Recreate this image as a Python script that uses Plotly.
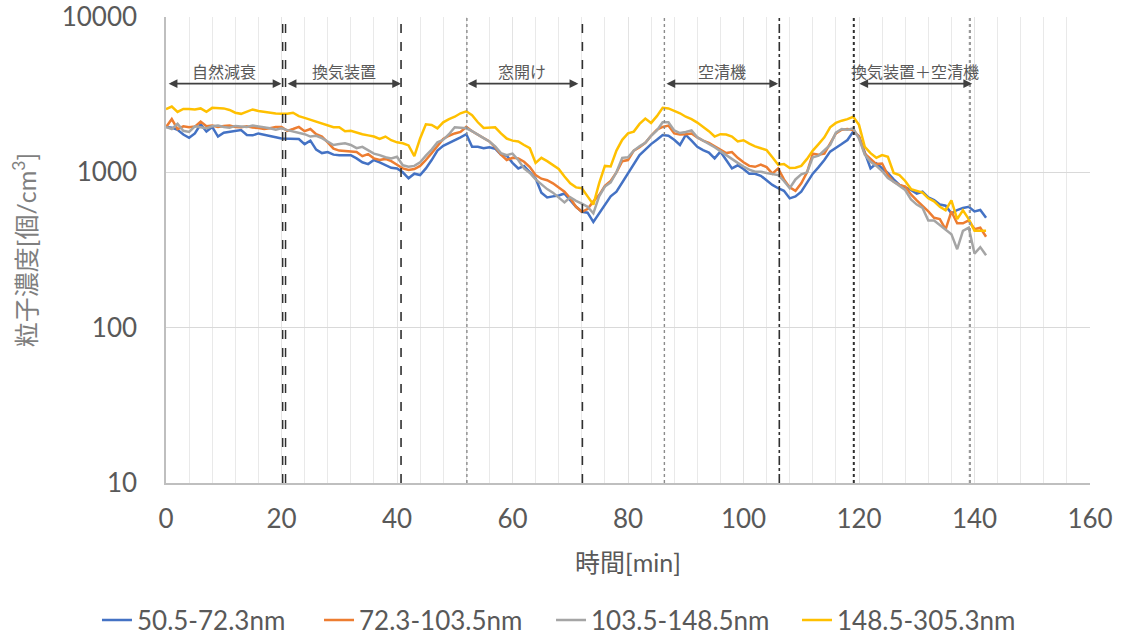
import plotly.graph_objects as go

# elapsed time [min]
minutes = list(range(0, 143))

# particle number concentration [個/cm3] per size band
band_50_72 = [
    1960, 1940, 1880, 1750, 1670, 1780, 2040, 1830, 1960, 1700,
    1800, 1830, 1840, 1870, 1740, 1730, 1780, 1740, 1700, 1680,
    1650, 1650, 1650, 1640, 1520, 1600, 1400, 1330, 1350, 1300,
    1290, 1290, 1290, 1230, 1160, 1130, 1200, 1160, 1120, 1070,
    1060, 1000, 915, 980, 960, 1060, 1200, 1380, 1480, 1540,
    1610, 1680, 1760, 1460, 1460, 1430, 1450, 1420, 1300, 1280,
    1150, 1060, 1100, 1010, 915, 740, 690, 700, 710, 730,
    660, 600, 557, 550, 480, 545, 620, 700, 750, 860,
    1000, 1140, 1290, 1400, 1520, 1620, 1740, 1720, 1620, 1500,
    1740, 1600, 1460, 1390, 1340, 1230, 1360, 1200, 1060, 1110,
    1050, 980, 980, 950, 890, 830, 790, 760, 680, 700,
    750, 850, 980, 1080, 1200, 1360, 1430, 1520, 1615, 1830,
    1700, 1330, 1060, 1140, 1060, 990, 900, 830, 800, 770,
    730, 750, 690, 663, 620, 610, 545, 572, 590, 600,
    560, 572, 510,
]
band_72_103 = [
    1950, 2200, 1900, 1980, 1950, 1970, 2120, 1980, 2000, 1960,
    1990, 2000, 1960, 1950, 1980, 1940, 1930, 1900, 1920, 1960,
    1960, 1850, 1900, 1960, 1840, 1900, 1760, 1700, 1560, 1420,
    1380, 1370, 1350, 1350, 1270, 1310, 1230, 1200, 1220, 1180,
    1120, 1060, 1035, 1050, 1100, 1200, 1330, 1480, 1640, 1720,
    1780, 1820, 1960, 1840, 1750, 1660, 1580, 1450, 1300, 1200,
    1240, 1230, 1170, 1080, 960, 910, 890, 850, 800, 750,
    680, 600, 557, 580, 650, 714, 820, 880, 1000, 1180,
    1200, 1380, 1450, 1550, 1720, 1880, 1960, 2000, 1780, 1750,
    1760, 1780, 1680, 1600, 1550, 1470, 1400, 1330, 1350, 1240,
    1160, 1100, 1085, 1120, 1080, 980, 1060, 900, 800, 760,
    850, 1000, 1320, 1300, 1320, 1550, 1780, 1880, 1900, 1870,
    1700, 1320, 1220, 1130, 1140, 960, 870, 830, 810, 720,
    660, 610, 560, 510, 500, 430, 560, 470, 470, 490,
    430, 440, 385,
]
band_103_148 = [
    1960, 1900, 2050, 1850, 1820, 1980, 1950, 1920, 1980, 2000,
    1960, 1940, 1990, 1970, 1960, 2000, 1980, 1950, 1920, 1880,
    1920, 1870, 1830, 1780, 1760, 1700, 1720, 1660, 1580, 1500,
    1520, 1540, 1500, 1430, 1460, 1380, 1320, 1290, 1250, 1230,
    1260, 1110, 1085, 1100, 1160, 1280, 1400, 1560, 1620, 1760,
    1950, 1940, 1920, 1840, 1740, 1660, 1580, 1470, 1330, 1290,
    1320, 1200, 1060, 990, 900, 840, 780, 740, 690, 640,
    690, 655, 630, 600, 545, 700, 810, 860, 1000, 1240,
    1250, 1380, 1470, 1550, 1720, 1860, 2100, 2100, 1860, 1790,
    1820, 1860, 1680, 1600, 1540, 1450, 1370, 1290, 1210, 1150,
    1090, 1040, 1010, 1010, 990, 970, 960, 880, 790, 900,
    970, 1000, 1250, 1280, 1380, 1500, 1800, 1900, 1880, 1920,
    1650, 1300, 1170, 1100, 1020, 920, 870, 820, 770, 670,
    620, 590, 490, 490, 460, 430, 400, 320, 420, 440,
    300, 330, 293,
]
band_148_305 = [
    2550, 2650, 2450, 2560, 2560, 2540, 2580, 2450, 2600, 2580,
    2580, 2520, 2420, 2380, 2460, 2540, 2480, 2450, 2400, 2390,
    2380, 2380, 2420, 2300, 2240, 2180, 2110, 2050, 1990, 1950,
    1950, 1840, 1850, 1800, 1760, 1730, 1700, 1640, 1700, 1610,
    1560, 1540, 1490, 1270, 1650, 2040, 2020, 1920, 2100, 2200,
    2280, 2400, 2470, 2330, 2100, 1930, 1940, 1950, 1780, 1650,
    1600, 1580, 1500, 1430, 1150, 1240, 1180, 1110, 1050, 940,
    850, 800, 790, 700, 620, 850, 1100, 1090, 1380, 1620,
    1780, 1830, 2050, 2220, 2080, 2300, 2600, 2580, 2500, 2400,
    2280, 2200, 2090, 1970, 1840, 1700, 1760, 1750, 1700, 1580,
    1610, 1530, 1470, 1430, 1390, 1250, 1120, 1130, 1065, 1070,
    1100, 1220, 1380, 1520, 1680, 1950, 2080, 2150, 2200, 2280,
    2020, 1460, 1330, 1240, 1290, 1260, 990, 960, 880, 780,
    760, 740, 680, 650, 600, 570, 660, 500, 570, 500,
    420, 420, 420,
]

series_names = ["50.5-72.3nm", "72.3-103.5nm", "103.5-148.5nm", "148.5-305.3nm"]
series_values = [band_50_72, band_72_103, band_103_148, band_148_305]
series_colors = ["#4472C4", "#ED7D31", "#A5A5A5", "#FFC000"]

# operating condition phases: (label, start, end)
phase_labels = ["自然減衰", "換気装置", "窓開け", "空清機", "換気装置＋空清機"]
phase_starts = [0.2, 20.8, 52.0, 86.4, 119.8]
phase_ends = [20.0, 40.7, 71.4, 106.0, 139.6]

# switching times: (time, dash, colour, width)
switch_times = [20.2, 20.7, 40.7, 52.1, 72.1, 86.3, 106.2, 119.1, 139.2]
switch_dash = ["dash", "dash", "dash", "dot", "dash", "dot", "dashdot", "dot", "dot"]
switch_color = ["#303030", "#303030", "#303030", "#8c8c8c", "#303030",
                "#8c8c8c", "#303030", "#303030", "#9a9a9a"]
switch_width = [1.5, 1.5, 1.6, 1.4, 1.6, 1.4, 1.6, 2.0, 2.2]

FONT = "Lato, 'Noto Sans CJK JP', sans-serif"
TXT = "#595959"

# one legend box per series so the entries sit where they belong
legend_ids = ["legend", "legend2", "legend3", "legend4"]
legend_x = [-0.0747, 0.1656, 0.4167, 0.6829]

fig = go.Figure()
for name, vals, col, lid in zip(series_names, series_values, series_colors, legend_ids):
    fig.add_trace(go.Scatter(
        x=minutes, y=vals, mode="lines", name=name,
        line=dict(color=col, width=2.5), legend=lid,
    ))

for t, d, c, w in zip(switch_times, switch_dash, switch_color, switch_width):
    fig.add_shape(type="line", xref="x", yref="paper", x0=t, x1=t, y0=0, y1=1,
                  line=dict(color=c, width=w, dash=d), layer="above")

arrow_y = 0.857
label_y = 0.884
for lab, s, e in zip(phase_labels, phase_starts, phase_ends):
    fig.add_annotation(
        x=e, y=arrow_y, xref="x", yref="paper",
        ax=s, ay=0, axref="x", ayref="pixel",
        text="", showarrow=True, arrowhead=2, arrowside="end+start",
        arrowsize=1.1, arrowwidth=1.6, arrowcolor="#404040",
        standoff=0, startstandoff=0,
    )
    fig.add_annotation(
        x=(s + e) / 2, y=label_y, xref="x", yref="paper",
        text=lab, showarrow=False, yanchor="middle",
        font=dict(size=16, color=TXT, family=FONT),
    )

legend_common = dict(
    orientation="h", xanchor="left", y=-0.294, yanchor="middle",
    font=dict(size=26, color=TXT, family=FONT),
    itemwidth=30, bgcolor="rgba(0,0,0,0)",
)
legend_layout = {}
for lid, lx in zip(legend_ids, legend_x):
    legend_layout[lid] = dict(legend_common, x=lx)

fig.update_layout(
    width=1123, height=637,
    margin=dict(l=166, r=33, t=17, b=154, autoexpand=False),
    paper_bgcolor="white", plot_bgcolor="white",
    font=dict(family=FONT, color=TXT),
    showlegend=True,
    xaxis=dict(
        range=[0, 160], dtick=20, tick0=0, automargin=False,
        showgrid=True, gridcolor="#e3e3e3", gridwidth=1,
        minor=dict(dtick=4, tick0=0, showgrid=True, gridcolor="#e9e9e9", gridwidth=1),
        showline=True, linecolor="#bfbfbf", linewidth=1.5,
        zeroline=False, ticks="",
        tickfont=dict(size=26, color=TXT, family=FONT),
        ticklabelstandoff=12,
        title=dict(text="時間[min]", font=dict(size=25, color=TXT, family=FONT), standoff=22),
    ),
    yaxis=dict(
        type="log", range=[1, 4], automargin=False,
        tickvals=[10, 100, 1000, 10000], ticktext=["10", "100", "1000", "10000"],
        showgrid=True, gridcolor="#d9d9d9", gridwidth=1,
        showline=True, linecolor="#bfbfbf", linewidth=1.5,
        zeroline=False, ticks="",
        tickfont=dict(size=26, color=TXT, family=FONT),
        ticklabelstandoff=22,
        title=dict(text="粒子濃度[個/cm<sup>3</sup>]",
                   font=dict(size=25, color="#7f7f7f", family=FONT), standoff=18),
    ),
    **legend_layout,
)

fig.write_html("out.html")
